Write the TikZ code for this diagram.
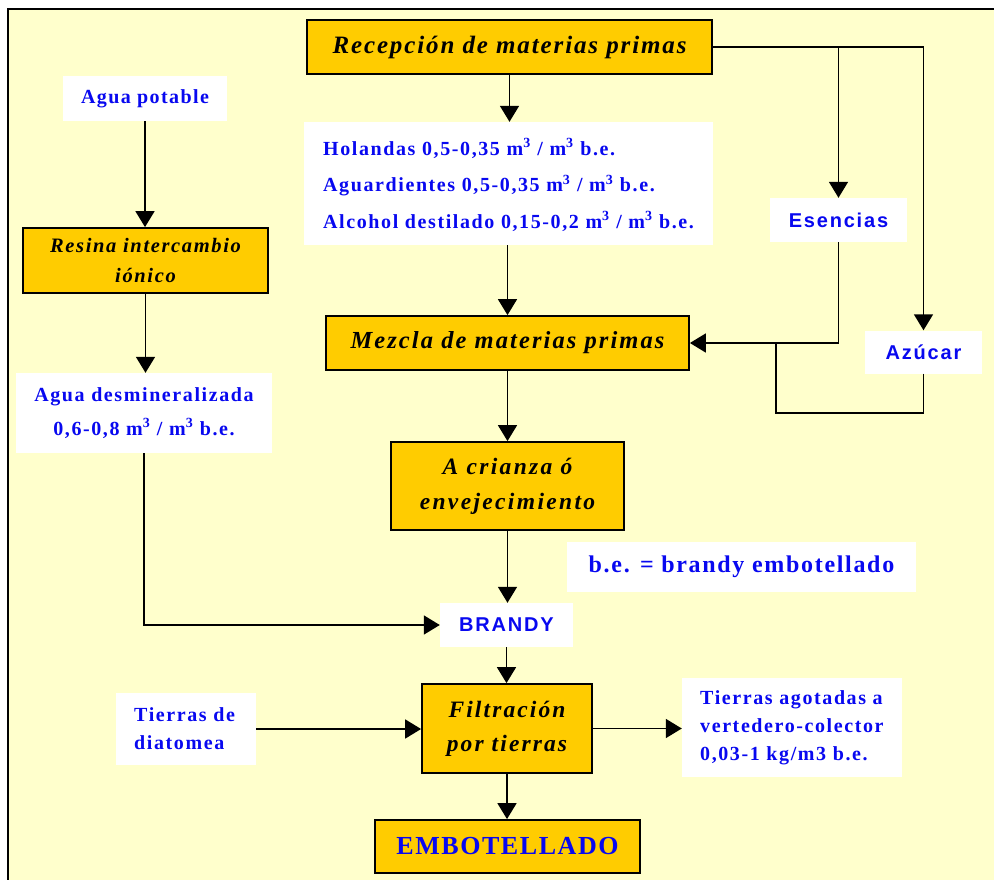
\documentclass[tikz,border=0pt]{standalone}
\usepackage{fontspec}
\setmainfont{Liberation Serif}
\newfontfamily\serifbase{Liberation Serif}
\newfontfamily\sansbase{Liberation Sans}
\usetikzlibrary{arrows.meta,calc}
\definecolor{bgyellow}{HTML}{FFFFCC}
\definecolor{boxorange}{HTML}{FFCC00}
\definecolor{txtblue}{RGB}{8,8,240}
\newcommand\fsz[2]{\fontsize{#1}{#2}\selectfont}
\newcommand\lsp[1]{\addfontfeatures{LetterSpace=#1}}
\tikzset{
  stage/.style={draw=black, line width=1.8pt, fill=boxorange, inner sep=0pt, align=center},
  note/.style={fill=white, inner sep=0pt, align=center, text=txtblue},
  notetext/.style={inner sep=0pt, align=left, anchor=west, text=txtblue},
  conn/.style={line width=1.7pt, draw=black},
  arr/.style={conn, -{Triangle[width=19pt,length=16pt]}},
}
\begin{document}
\begin{tikzpicture}[x=1pt,y=-1pt]
  % page and framed panel
  \useasboundingbox (0,0) rectangle (994,880);
  \fill[white] (0,0) rectangle (994,880);
  \fill[bgyellow] (8,9) rectangle (994,880);
  \draw[line width=1.5pt] (8,880) -- (8,9) -- (994,9);

  % process stages
  \node[stage, minimum width=405pt, minimum height=54pt,
        font=\serifbase\bfseries\itshape\lsp{7.5}\fsz{25}{30}] (rec) at (509.5,47) {Recepción de materias primas};
  \node[stage, minimum width=363pt, minimum height=54pt,
        font=\serifbase\bfseries\itshape\lsp{8.5}\fsz{24.5}{30}] (mez) at (507.5,343) {Mezcla de materias primas};
  \node[stage, minimum width=233pt, minimum height=88pt,
        font=\serifbase\bfseries\itshape\lsp{10}\fsz{23.5}{35}] (cri) at (507.5,486) {A crianza ó\\envejecimiento};
  \node[stage, minimum width=170pt, minimum height=89pt,
        font=\serifbase\bfseries\itshape\lsp{9}\fsz{23.5}{34}] (fil) at (507,728.5) {Filtración\\por tierras};
  \node[stage, minimum width=245pt, minimum height=65pt,
        font=\serifbase\bfseries\itshape\lsp{8}\fsz{20.5}{30}] (res) at (145.5,260.5) {Resina intercambio\\iónico};
  \node[stage, minimum width=265pt, minimum height=53pt, text=txtblue,
        font=\serifbase\bfseries\lsp{6}\fsz{26}{30}] (emb) at (507.5,846.5) {EMBOTELLADO};

  % inputs and notes
  \node[note, minimum width=164pt, minimum height=45pt,
        font=\serifbase\bfseries\lsp{7}\fsz{20}{24}] (agp) at (145,98.5) {Agua potable};
  \node[note, minimum width=256pt, minimum height=80pt,
        font=\serifbase\bfseries\lsp{8}\fsz{20}{34}] (des) at (144,413)
        {Agua desmineralizada\\0,6-0,8 m\textsuperscript{3} / m\textsuperscript{3} b.e.};
  \node[note, minimum width=409pt, minimum height=123pt] (hol) at (508.5,183.5) {};
  \node[notetext, font=\serifbase\bfseries\lsp{8}\fsz{20}{36.5}] (holtxt) at (323,185)
        {Holandas 0,5-0,35 m\textsuperscript{3} / m\textsuperscript{3} b.e.\\
         Aguardientes 0,5-0,35 m\textsuperscript{3} / m\textsuperscript{3} b.e.\\
         Alcohol destilado 0,15-0,2 m\textsuperscript{3} / m\textsuperscript{3} b.e.};
  \node[note, minimum width=137pt, minimum height=44pt,
        font=\sansbase\bfseries\lsp{9}\fsz{20}{24}] (ese) at (838.5,220) {Esencias};
  \node[note, minimum width=117pt, minimum height=43pt,
        font=\sansbase\bfseries\lsp{9}\fsz{20}{24}] (azu) at (923.5,352) {Azúcar};
  \node[note, minimum width=349pt, minimum height=50pt,
        font=\serifbase\bfseries\lsp{7}\fsz{24}{28}] (be) at (741.5,567) {b.e. = brandy embotellado};
  \node[note, minimum width=133pt, minimum height=44pt,
        font=\sansbase\bfseries\lsp{9}\fsz{20}{24}] (bra) at (506.5,625) {BRANDY};
  \node[note, minimum width=140pt, minimum height=72pt] (dia) at (186,729) {};
  \node[notetext, font=\serifbase\bfseries\lsp{8}\fsz{20}{28}] (diatxt) at (134,729) {Tierras de\\diatomea};
  \node[note, minimum width=220pt, minimum height=99pt] (ago) at (792,727.5) {};
  \node[notetext, font=\serifbase\bfseries\lsp{8}\fsz{20}{28}] (agotxt) at (700,728)
        {Tierras agotadas a\\vertedero-colector\\0,03-1 kg/m3 b.e.};

  % junction points of the side feeds
  \coordinate (loop) at (776,413);
  \coordinate (join) at (mez.east -| loop);

  % main line
  \draw[arr] (rec.south) -- (rec.south |- hol.north);
  \draw[arr] (mez.north |- hol.south) -- (mez.north);
  \draw[arr] (mez.south) -- (mez.south |- cri.north);
  \draw[arr] (cri.south) -- (cri.south |- bra.north);
  \draw[arr] (bra.south) -- (bra.south |- fil.north);
  \draw[arr] (fil.south) -- (fil.south |- emb.north);

  % essences and sugar
  \draw[arr] (rec.east) -| (azu.north);
  \draw[arr] (ese.north |- rec.east) -- (ese.north);
  \draw[arr] (ese.south) |- (mez.east);
  \draw[conn] (azu.south) |- (loop) -- (join);

  % water treatment
  \draw[arr] (agp.south) -- (agp.south |- res.north);
  \draw[arr] (res.south) -- (res.south |- des.north);
  \draw[arr] (des.south) |- (bra.west);

  % filtration earths
  \draw[arr] (dia.east) -- (dia.east -| fil.west);
  \draw[arr] (fil.east) -- (fil.east -| ago.west);
\end{tikzpicture}
\end{document}
